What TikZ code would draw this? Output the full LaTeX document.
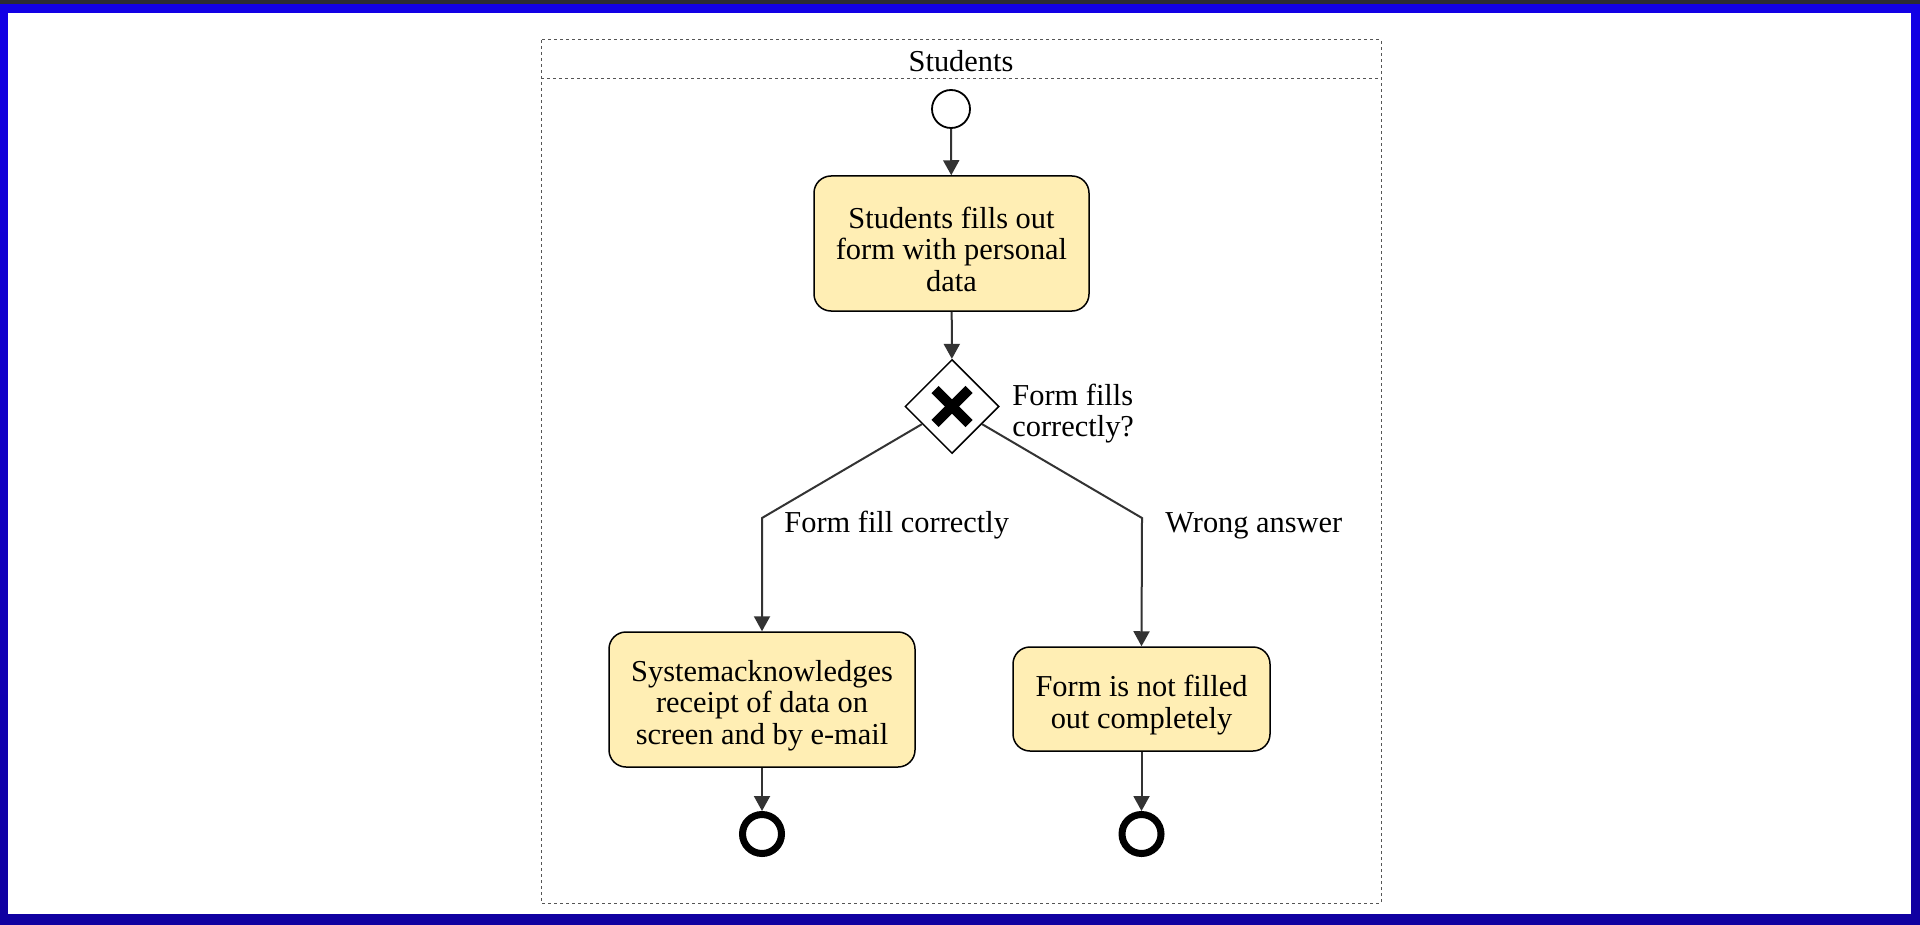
\documentclass[tikz,border=0pt]{standalone}
\usepackage{fontspec}
\setmainfont{Liberation Serif}
\usetikzlibrary{arrows.meta,shapes.geometric}
\definecolor{taskfill}{HTML}{FFEEB4}
\definecolor{flowgray}{HTML}{333333}
\definecolor{poolgray}{HTML}{555555}
\definecolor{frametop}{HTML}{1200E6}
\definecolor{framebot}{HTML}{1000A0}
\definecolor{stripgray}{HTML}{2B2B35}
\newcommand{\tstrut}{\rule{0pt}{16.5pt}}
\begin{document}
\begin{tikzpicture}[x=0.5pt,y=-0.5pt,>={Triangle[length=7.5pt,width=8pt]},
  every node/.style={font=\fontsize{15.2}{15.8}\selectfont},
  pool/.style={draw=poolgray,line width=0.5pt,dash pattern=on 1.5pt off 1.5pt},
  task/.style={draw,line width=0.75pt,fill=taskfill,rounded corners=8.5pt,align=center,minimum height=67.5pt},
  start/.style={circle,draw,line width=0.9pt,inner sep=0pt,minimum size=19pt},
  finish/.style={circle,draw,line width=3.5pt,inner sep=0pt,minimum size=19.5pt},
  gateway/.style={diamond,draw,line width=0.75pt,inner sep=0pt,minimum width=47pt,minimum height=47pt},
  flow/.style={->,draw=flowgray,line width=1pt}]
\useasboundingbox (0,0) rectangle (1920,925);
\shade[top color=frametop,bottom color=framebot] (0,0) rectangle (1920,925);
\fill[stripgray] (0,0) rectangle (1920,4);
\fill[white] (8,13) rectangle (1911,914);
\draw[pool] (541,40) rectangle (1381,903);
\draw[pool] (541,79) -- (1381,79);
\node (lane) at (961,61) {Students};
\node[start] (start) at (951,109) {};
\node[task,minimum width=137.5pt] (fill) at (951.5,243.5) {\tstrut Students fills out\\form with personal\\data};
\node[gateway] (gw) at (952,406.5) {};
\draw[line width=5pt] ([shift={(-17,-17)}]gw.center) -- ([shift={(17,17)}]gw.center);
\draw[line width=5pt] ([shift={(-17,17)}]gw.center) -- ([shift={(17,-17)}]gw.center);
\node[anchor=west,align=left,inner sep=0pt] (gwlabel) at (1012,413.5) {Form fills\\correctly?};
\node[task,minimum width=153pt] (ack) at (762,699.5) {\tstrut Systemacknowledges\\receipt of data on\\screen and by e-mail};
\node[task,minimum width=128.5pt,minimum height=52pt] (wrong) at (1141.5,699) {\tstrut Form is not filled\\out completely};
\node[finish] (endack) at (762,834) {};
\node[finish] (endwrong) at (1141.5,834) {};
\coordinate (bl) at (762,518);
\coordinate (br) at (1142,518);
\node[anchor=west,inner sep=0pt] (oklabel) at (784,525.5) {Form fill correctly};
\node[anchor=west,inner sep=0pt] (nolabel) at (1165,525.5) {Wrong answer};
\draw[flow] (start) -- (fill);
\draw[flow] (fill) -- (gw);
\draw[flow] (gw) -- (bl) -- (ack.north);
\draw[flow] (gw) -- (br) -- (wrong.north);
\draw[flow] (ack) -- (endack);
\draw[flow] (wrong) -- (endwrong);
\end{tikzpicture}
\end{document}
